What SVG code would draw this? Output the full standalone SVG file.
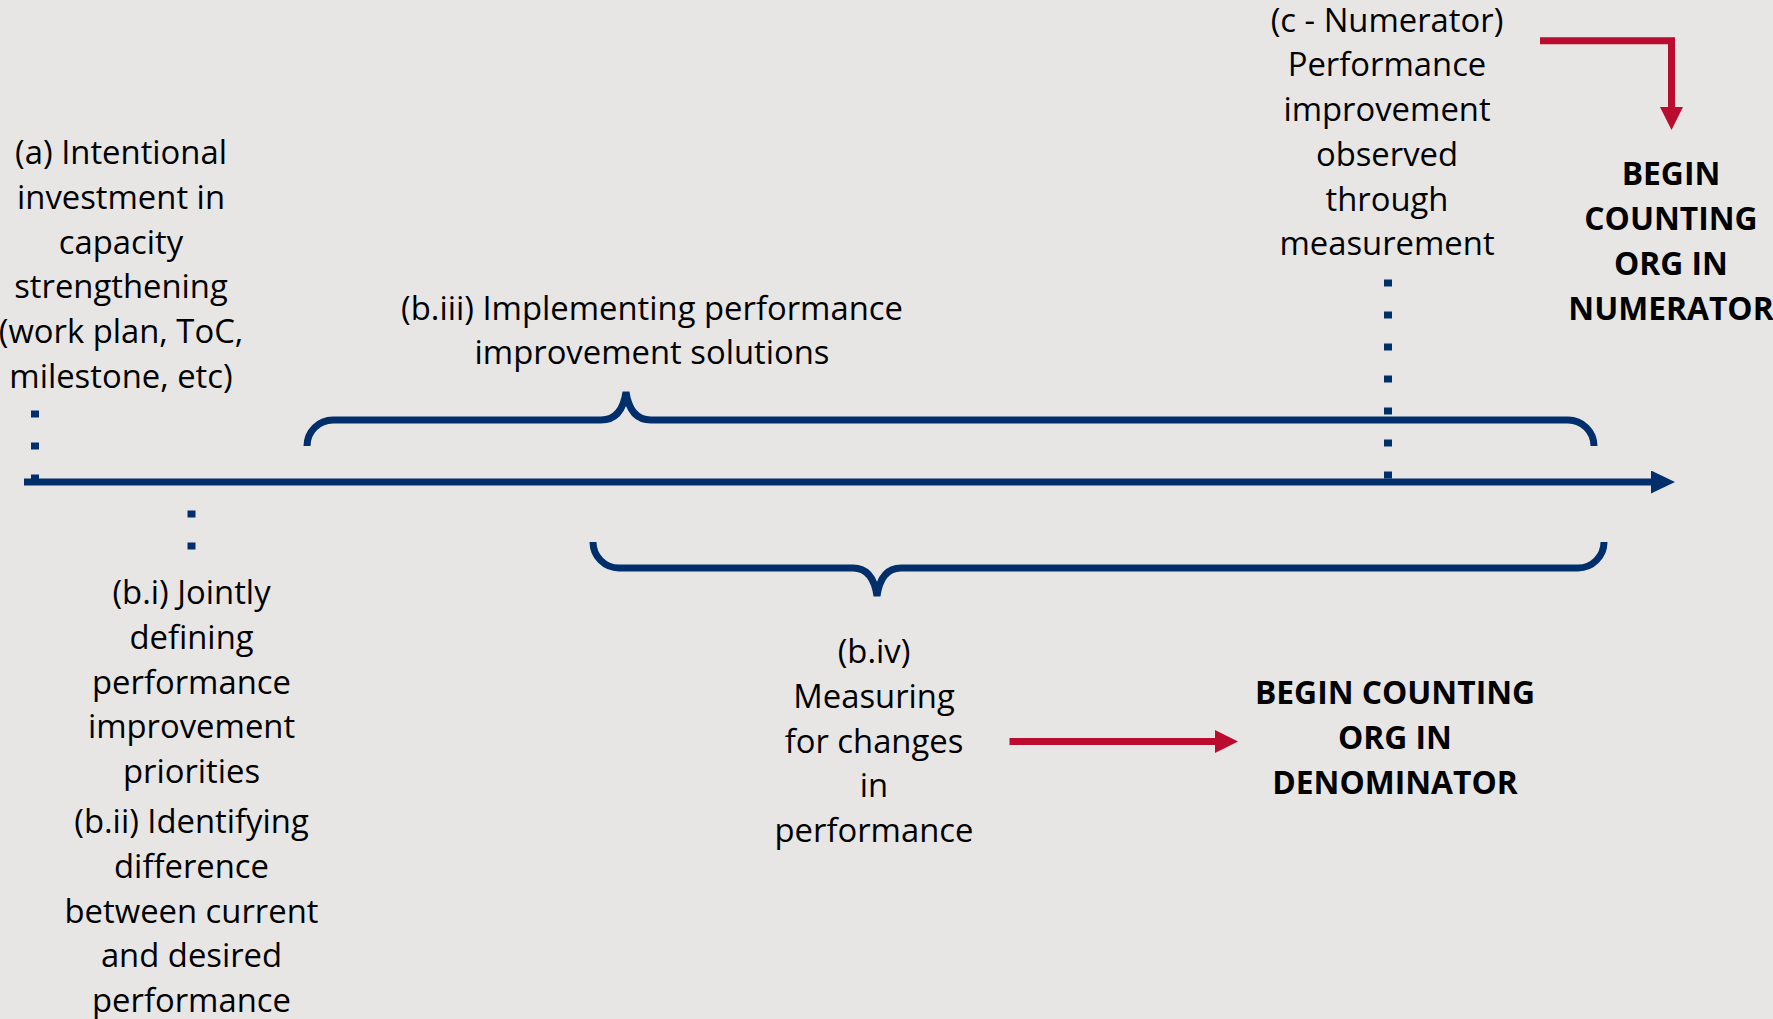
<svg xmlns="http://www.w3.org/2000/svg" width="1773" height="1019" viewBox="0 0 1773 1019">
<style>
.t{font-family:"Open Sans","Liberation Sans",sans-serif;font-size:32.8px;fill:#000;text-anchor:middle}
.b{font-weight:bold;font-size:31.8px}
.navy{stroke:#002F6C;fill:none}
.red{stroke:#BA0C2F;fill:none;stroke-width:7}
.dot{stroke:#002F6C;stroke-width:8;stroke-dasharray:7 25;fill:none}
</style>
<defs>
<marker id="hNavy" markerUnits="userSpaceOnUse" viewBox="0 0 24 23" markerWidth="24" markerHeight="23" refX="2" refY="11.5" orient="auto"><path d="M0,0 L24,11.5 L0,23 z" fill="#002F6C"/></marker>
<marker id="hRed" markerUnits="userSpaceOnUse" viewBox="0 0 23 23" markerWidth="23" markerHeight="23" refX="2" refY="11.5" orient="auto"><path d="M0,0 L23,11.5 L0,23 z" fill="#BA0C2F"/></marker>
</defs>
<rect width="1773" height="1019" fill="#E7E6E5"/>
<g id="connectors">
<line class="navy" x1="24" y1="482" x2="1653" y2="482" stroke-width="7" marker-end="url(#hNavy)"/>
<line class="dot" x1="35" y1="410.5" x2="35" y2="482"/>
<line class="dot" x1="191.5" y1="510.5" x2="191.5" y2="550"/>
<line class="dot" x1="1388" y1="279.5" x2="1388" y2="482"/>
<path class="navy" stroke-width="7" d="M307,446 A26,26 0 0 1 333,420 L601,420 Q622,420 626,392 Q630,420 651,420 L1568,420 A26,26 0 0 1 1594,446"/>
<path class="navy" stroke-width="7" d="M593,542 A26,26 0 0 0 619,568 L853,568 Q873,568 877,596 Q881,568 901,568 L1578,568 A26,26 0 0 0 1604,542"/>
<polyline class="red" points="1540,40.7 1671.5,40.7 1671.5,109" marker-end="url(#hRed)"/>
<line class="red" x1="1009.5" y1="741.5" x2="1217" y2="741.5" marker-end="url(#hRed)"/>
</g>
<g id="node-a">
<text class="t"><tspan x="121" y="164">(a) Intentional</tspan><tspan x="121" y="208.8">investment in</tspan><tspan x="121" y="253.6">capacity</tspan><tspan x="121" y="298.4">strengthening</tspan><tspan x="121" y="343.2">(work plan, ToC,</tspan><tspan x="121" y="388">milestone, etc)</tspan></text>
</g>
<g id="node-biii">
<text class="t"><tspan x="652" y="319.5">(b.iii) Implementing performance</tspan><tspan x="652" y="363.6">improvement solutions</tspan></text>
</g>
<g id="node-c">
<text class="t"><tspan x="1387" y="31.5">(c - Numerator)</tspan><tspan x="1387" y="76.3">Performance</tspan><tspan x="1387" y="121">improvement</tspan><tspan x="1387" y="165.8">observed</tspan><tspan x="1387" y="210.6">through</tspan><tspan x="1387" y="255.4">measurement</tspan></text>
</g>
<g id="node-numerator">
<text class="t b"><tspan x="1671" y="185">BEGIN</tspan><tspan x="1671" y="230">COUNTING</tspan><tspan x="1671" y="275">ORG IN</tspan><tspan x="1671" y="320">NUMERATOR</tspan></text>
</g>
<g id="node-bi-bii">
<text class="t"><tspan x="191.5" y="604">(b.i) Jointly</tspan><tspan x="191.5" y="648.8">defining</tspan><tspan x="191.5" y="693.6">performance</tspan><tspan x="191.5" y="738.4">improvement</tspan><tspan x="191.5" y="783.2">priorities</tspan><tspan x="191.5" y="833">(b.ii) Identifying</tspan><tspan x="191.5" y="877.8">difference</tspan><tspan x="191.5" y="922.6">between current</tspan><tspan x="191.5" y="967.4">and desired</tspan><tspan x="191.5" y="1012.2">performance</tspan></text>
</g>
<g id="node-biv">
<text class="t"><tspan x="874" y="663">(b.iv)</tspan><tspan x="874" y="707.8">Measuring</tspan><tspan x="874" y="752.6">for changes</tspan><tspan x="874" y="797.4">in</tspan><tspan x="874" y="842.2">performance</tspan></text>
</g>
<g id="node-denominator">
<text class="t b"><tspan x="1395" y="704">BEGIN COUNTING</tspan><tspan x="1395" y="749">ORG IN</tspan><tspan x="1395" y="794">DENOMINATOR</tspan></text>
</g>
</svg>
